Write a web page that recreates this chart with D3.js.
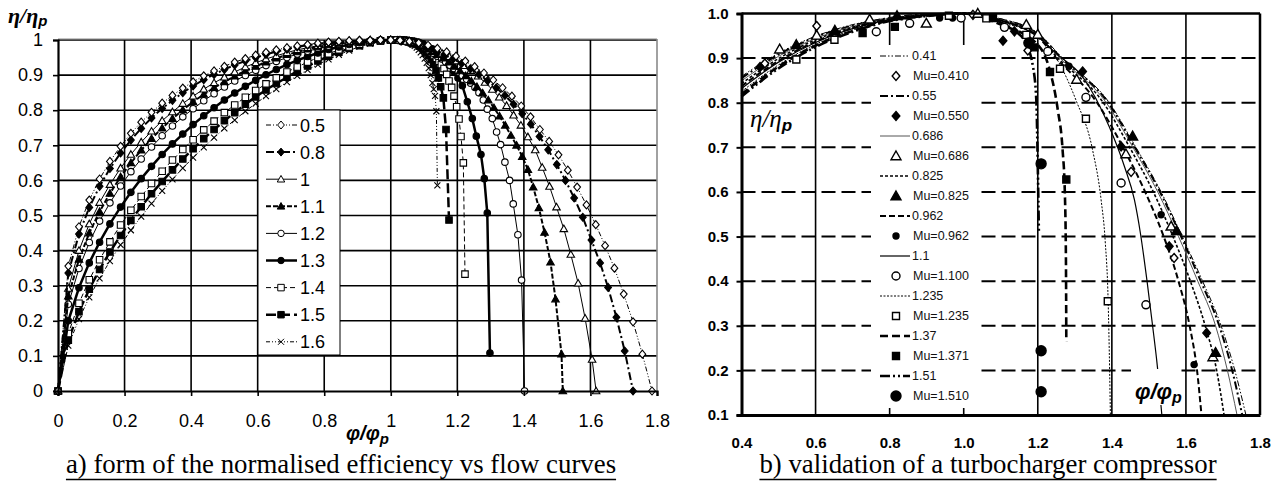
<!DOCTYPE html>
<html>
<head>
<meta charset="utf-8">
<script src="https://cdn.jsdelivr.net/npm/d3@7"></script>
<style>
  body { margin: 0; background: #fff; }
  svg { display: block; }
</style>
</head>
<body>
<svg id="fig" width="1284" height="486"></svg>
<script>
// ---------- chart a) data: normalised efficiency vs flow, one curve per Mu ----------
var muA = ["0.5", "0.8", "1", "1.1", "1.2", "1.3", "1.4", "1.5", "1.6"];

// rising side, shared flow values (phi/phi_p)
var phiRise = [0, 0.031, 0.063, 0.094, 0.125, 0.156, 0.188, 0.219, 0.25, 0.281, 0.313, 0.344, 0.375, 0.406, 0.438, 0.469, 0.5,
  0.531, 0.563, 0.594, 0.625, 0.656, 0.688, 0.719, 0.75, 0.781, 0.813, 0.844, 0.875, 0.906, 0.938, 0.969, 1];

var rise05 = [0, 0.356, 0.468, 0.544, 0.604, 0.654, 0.697, 0.734, 0.766, 0.794, 0.82, 0.842, 0.863, 0.881, 0.898, 0.912, 0.925, 0.937, 0.947, 0.957, 0.965, 0.972, 0.978, 0.983, 0.987, 0.991, 0.994, 0.996, 0.998, 0.999, 0.999, 1, 1];
var rise08 = [0, 0.336, 0.447, 0.523, 0.583, 0.634, 0.678, 0.715, 0.748, 0.778, 0.805, 0.828, 0.85, 0.869, 0.887, 0.902, 0.916, 0.929, 0.94, 0.95, 0.959, 0.967, 0.974, 0.98, 0.985, 0.989, 0.993, 0.995, 0.997, 0.999, 0.999, 1, 1];
var rise10 = [0, 0.292, 0.4, 0.476, 0.537, 0.588, 0.635, 0.674, 0.709, 0.74, 0.77, 0.795, 0.819, 0.84, 0.86, 0.878, 0.894, 0.909, 0.923, 0.935, 0.946, 0.955, 0.964, 0.972, 0.978, 0.984, 0.989, 0.992, 0.995, 0.998, 0.999, 1, 1];
var rise11 = [0, 0.27, 0.375, 0.45, 0.511, 0.563, 0.61, 0.65, 0.686, 0.719, 0.749, 0.776, 0.801, 0.824, 0.845, 0.864, 0.881, 0.897, 0.912, 0.925, 0.937, 0.948, 0.958, 0.966, 0.974, 0.98, 0.986, 0.99, 0.994, 0.997, 0.999, 1, 1];
var rise12 = [0, 0.247, 0.349, 0.423, 0.484, 0.536, 0.584, 0.625, 0.661, 0.695, 0.727, 0.755, 0.781, 0.804, 0.827, 0.847, 0.866, 0.883, 0.899, 0.914, 0.927, 0.939, 0.95, 0.96, 0.968, 0.976, 0.982, 0.988, 0.992, 0.996, 0.998, 1, 1];
var rise13 = [0, 0.2, 0.294, 0.365, 0.424, 0.476, 0.524, 0.566, 0.605, 0.64, 0.674, 0.704, 0.732, 0.759, 0.784, 0.807, 0.829, 0.849, 0.868, 0.885, 0.901, 0.916, 0.93, 0.942, 0.953, 0.963, 0.973, 0.98, 0.987, 0.992, 0.996, 0.999, 1];
var rise14 = [0, 0.164, 0.25, 0.317, 0.374, 0.425, 0.473, 0.515, 0.554, 0.591, 0.626, 0.658, 0.688, 0.716, 0.744, 0.769, 0.793, 0.815, 0.837, 0.856, 0.875, 0.892, 0.909, 0.923, 0.937, 0.95, 0.961, 0.972, 0.98, 0.988, 0.994, 0.998, 1];
var rise15 = [0, 0.145, 0.226, 0.29, 0.346, 0.396, 0.443, 0.486, 0.525, 0.562, 0.597, 0.63, 0.661, 0.69, 0.719, 0.745, 0.77, 0.793, 0.817, 0.838, 0.858, 0.876, 0.894, 0.911, 0.926, 0.94, 0.954, 0.965, 0.976, 0.984, 0.992, 0.997, 1];
var rise16 = [0, 0.129, 0.205, 0.267, 0.321, 0.37, 0.416, 0.458, 0.497, 0.534, 0.57, 0.603, 0.635, 0.665, 0.694, 0.722, 0.748, 0.772, 0.797, 0.819, 0.84, 0.86, 0.88, 0.898, 0.915, 0.93, 0.945, 0.958, 0.97, 0.981, 0.99, 0.996, 1];

// falling side, [phi/phi_p, eta/eta_p]
var fall05 = [[1.028,0.999],[1.056,0.996],[1.084,0.992],[1.112,0.985],[1.14,0.976],[1.168,0.966],[1.196,0.954],[1.224,0.94],[1.252,0.924],[1.28,0.906],[1.308,0.886],[1.336,0.864],[1.364,0.84],[1.392,0.812],[1.42,0.781],[1.448,0.745],[1.476,0.711],[1.504,0.673],[1.532,0.629],[1.56,0.581],[1.588,0.53],[1.616,0.474],[1.644,0.414],[1.672,0.35],[1.7,0.276],[1.728,0.197],[1.756,0.105],[1.785,0]];
var fall08 = [[1.031,0.997],[1.057,0.992],[1.083,0.985],[1.109,0.977],[1.135,0.968],[1.161,0.958],[1.187,0.946],[1.213,0.933],[1.239,0.918],[1.265,0.902],[1.291,0.884],[1.317,0.864],[1.343,0.842],[1.369,0.817],[1.395,0.79],[1.421,0.76],[1.447,0.725],[1.473,0.687],[1.499,0.645],[1.525,0.6],[1.551,0.55],[1.577,0.495],[1.603,0.43],[1.629,0.365],[1.653,0.295],[1.678,0.21],[1.703,0.114],[1.728,0]];
var fall10 = [[1.025,0.999],[1.047,0.996],[1.068,0.992],[1.09,0.986],[1.111,0.979],[1.133,0.971],[1.154,0.962],[1.176,0.952],[1.197,0.94],[1.219,0.927],[1.24,0.913],[1.262,0.897],[1.283,0.879],[1.305,0.859],[1.326,0.837],[1.348,0.813],[1.369,0.786],[1.391,0.757],[1.412,0.724],[1.434,0.687],[1.455,0.637],[1.477,0.583],[1.498,0.524],[1.52,0.462],[1.541,0.389],[1.563,0.307],[1.584,0.207],[1.605,0.09],[1.617,0]];
var fall11 = [[1.021,0.999],[1.038,0.997],[1.055,0.993],[1.072,0.988],[1.089,0.982],[1.106,0.975],[1.123,0.967],[1.14,0.958],[1.157,0.948],[1.174,0.937],[1.191,0.925],[1.208,0.912],[1.225,0.898],[1.242,0.883],[1.259,0.867],[1.276,0.849],[1.293,0.829],[1.31,0.807],[1.327,0.783],[1.344,0.757],[1.361,0.728],[1.378,0.7],[1.395,0.668],[1.412,0.631],[1.428,0.581],[1.445,0.522],[1.462,0.452],[1.48,0.367],[1.495,0.262],[1.513,0.105],[1.517,0]];
var fall12 = [[1.015,1],[1.028,0.999],[1.04,0.997],[1.053,0.995],[1.065,0.991],[1.078,0.987],[1.09,0.982],[1.103,0.976],[1.115,0.969],[1.128,0.962],[1.14,0.954],[1.153,0.946],[1.165,0.937],[1.178,0.928],[1.19,0.919],[1.203,0.909],[1.215,0.899],[1.228,0.888],[1.24,0.877],[1.253,0.865],[1.265,0.85],[1.278,0.829],[1.29,0.803],[1.305,0.776],[1.318,0.738],[1.33,0.702],[1.343,0.652],[1.357,0.6],[1.368,0.533],[1.382,0.445],[1.393,0.316],[1.402,0]];
var fall13 = [[1.02,1],[1.033,1],[1.046,0.999],[1.059,0.998],[1.072,0.996],[1.085,0.993],[1.098,0.989],[1.111,0.983],[1.124,0.975],[1.137,0.966],[1.15,0.955],[1.163,0.942],[1.176,0.927],[1.189,0.91],[1.202,0.892],[1.215,0.87],[1.23,0.824],[1.245,0.776],[1.257,0.726],[1.271,0.674],[1.281,0.605],[1.29,0.507],[1.298,0.108]];
var fall14 = [[1.023,1],[1.031,1],[1.038,0.999],[1.046,0.999],[1.054,0.998],[1.061,0.997],[1.069,0.995],[1.077,0.993],[1.084,0.99],[1.092,0.986],[1.1,0.982],[1.107,0.977],[1.115,0.971],[1.122,0.964],[1.13,0.956],[1.137,0.948],[1.145,0.939],[1.152,0.93],[1.16,0.919],[1.168,0.902],[1.175,0.883],[1.183,0.865],[1.19,0.84],[1.198,0.81],[1.205,0.775],[1.211,0.725],[1.218,0.65],[1.223,0.333]];
var fall15 = [[1.017,1],[1.024,1],[1.031,0.999],[1.038,0.999],[1.045,0.998],[1.052,0.997],[1.059,0.995],[1.066,0.993],[1.073,0.99],[1.08,0.987],[1.087,0.983],[1.094,0.978],[1.101,0.972],[1.108,0.964],[1.115,0.955],[1.122,0.944],[1.129,0.93],[1.136,0.913],[1.143,0.892],[1.15,0.867],[1.158,0.835],[1.166,0.745],[1.175,0.487]];
var fall16 = [[1.012,1],[1.018,1],[1.024,1],[1.03,0.999],[1.036,0.998],[1.042,0.997],[1.048,0.995],[1.054,0.993],[1.06,0.99],[1.066,0.987],[1.072,0.983],[1.078,0.978],[1.084,0.972],[1.09,0.965],[1.096,0.957],[1.102,0.947],[1.108,0.935],[1.114,0.92],[1.12,0.9],[1.125,0.878],[1.129,0.86],[1.133,0.841],[1.137,0.797],[1.14,0.586]];

// ---------- chart b) data: turbocharger compressor validation ----------
var line041  = [[0.4,0.859],[0.5,0.911],[0.6,0.949],[0.7,0.975],[0.8,0.99],[0.9,0.998],[1,1],[1.1,0.988],[1.2,0.956],[1.267,0.9],[1.393,0.8],[1.465,0.7],[1.533,0.6],[1.59,0.5],[1.645,0.4],[1.695,0.3],[1.732,0.2],[1.762,0.1]];
var line055  = [[0.4,0.855],[0.5,0.908],[0.6,0.947],[0.7,0.973],[0.8,0.99],[0.9,0.998],[1,1],[1.1,0.987],[1.2,0.954],[1.264,0.9],[1.39,0.8],[1.462,0.7],[1.53,0.6],[1.587,0.5],[1.64,0.4],[1.69,0.3],[1.725,0.2],[1.752,0.1]];
var line0686 = [[0.4,0.849],[0.5,0.904],[0.6,0.944],[0.7,0.971],[0.8,0.989],[0.9,0.997],[1,1],[1.1,0.986],[1.2,0.952],[1.26,0.9],[1.385,0.8],[1.457,0.7],[1.524,0.6],[1.58,0.5],[1.632,0.4],[1.68,0.3],[1.712,0.2],[1.738,0.1]];
var line0825 = [[0.4,0.843],[0.5,0.899],[0.6,0.941],[0.7,0.969],[0.8,0.988],[0.9,0.997],[1,1],[1.1,0.985],[1.2,0.95],[1.255,0.9],[1.377,0.8],[1.448,0.7],[1.512,0.6],[1.565,0.5],[1.612,0.4],[1.652,0.3],[1.683,0.2],[1.703,0.1]];
var line0962 = [[0.4,0.837],[0.5,0.894],[0.6,0.937],[0.7,0.967],[0.8,0.987],[0.9,0.996],[1,1],[1.1,0.984],[1.2,0.948],[1.25,0.9],[1.36,0.8],[1.43,0.7],[1.49,0.6],[1.54,0.5],[1.58,0.4],[1.61,0.3],[1.63,0.2],[1.642,0.1]];
var line11   = [[0.4,0.832],[0.5,0.891],[0.6,0.935],[0.7,0.966],[0.8,0.986],[0.9,0.996],[1,1],[1.1,0.984],[1.2,0.948],[1.25,0.91],[1.321,0.858],[1.393,0.746],[1.434,0.657],[1.461,0.582],[1.477,0.508],[1.495,0.4],[1.51,0.3],[1.523,0.208],[1.535,0.1]];
var line1235 = [[0.4,0.825],[0.5,0.885],[0.6,0.931],[0.7,0.963],[0.8,0.985],[0.9,0.995],[1,1],[1.1,0.98],[1.205,0.948],[1.25,0.9],[1.303,0.806],[1.348,0.694],[1.371,0.582],[1.382,0.49],[1.39,0.354],[1.394,0.2],[1.396,0.1]];
var line137  = [[0.4,0.819],[0.5,0.881],[0.6,0.928],[0.7,0.961],[0.8,0.984],[0.9,0.995],[1,1],[1.1,0.975],[1.2,0.93],[1.232,0.874],[1.254,0.784],[1.267,0.694],[1.273,0.6],[1.276,0.45],[1.277,0.265]];
var line151  = [[0.4,0.814],[0.5,0.877],[0.6,0.925],[0.7,0.959],[0.8,0.983],[0.9,0.994],[1,1],[1.05,0.995],[1.1,0.98],[1.14,0.96],[1.165,0.937],[1.187,0.881],[1.196,0.806],[1.2,0.657],[1.203,0.508]];

var pts0410 = [[0.463,0.888],[0.603,0.972],[1.025,0.997],[1.173,0.917],[1.452,0.645],[1.568,0.452]];
var pts0550 = [[0.45,0.88],[1.106,0.939],[1.137,0.96],[1.321,0.87],[1.425,0.702],[1.555,0.478],[1.656,0.284]];
var pts0686 = [[0.503,0.92],[0.603,0.951],[0.746,0.987],[0.899,0.978],[1.038,1.0],[1.169,0.975],[1.2,0.953],[1.305,0.852],[1.438,0.685],[1.56,0.523],[1.673,0.23]];
var pts0825 = [[0.548,0.93],[0.652,0.962],[0.82,0.995],[1.456,0.725],[1.575,0.513],[1.68,0.24]];
var pts0962 = [[0.935,0.99],[0.97,0.99],[1.284,0.882],[1.533,0.549],[1.622,0.213]];
var pts1100 = [[0.764,0.959],[0.854,0.978],[0.993,0.99],[1.11,0.969],[1.227,0.915],[1.33,0.812],[1.425,0.62],[1.492,0.347]];
var pts1235 = [[0.548,0.897],[0.651,0.941],[0.96,0.995],[1.061,0.989],[1.169,0.952],[1.26,0.876],[1.33,0.764],[1.389,0.355]];
var pts1371 = [[0.727,0.956],[0.814,0.97],[1.079,0.99],[1.191,0.924],[1.233,0.869],[1.277,0.628]];
var pts1510 = [[1.176,0.934],[1.209,0.663],[1.209,0.244],[1.209,0.152]];

// ---------------------------------------------------------------------------
var svg = d3.select("#fig");
var SANS = "'Liberation Sans', Arial, sans-serif";
var SERIF = "'Liberation Serif', 'Times New Roman', serif";

function markPath(type, s) {
  var h = s / 2;
  if (type == "diamond") return "M0," + (-h) + "L" + h * 0.85 + ",0L0," + h + "L" + (-h * 0.85) + ",0Z";
  if (type == "triangle") return "M0," + (-h) + "L" + h + "," + h * 0.75 + "L" + (-h) + "," + h * 0.75 + "Z";
  if (type == "square") return "M" + (-h) + "," + (-h) + "H" + h + "V" + h + "H" + (-h) + "Z";
  if (type == "x") return "M" + (-h) + "," + (-h) + "L" + h + "," + h + "M" + h + "," + (-h) + "L" + (-h) + "," + h;
  return "M" + h + ",0A" + h + "," + h + " 0 1,1 " + (-h) + ",0A" + h + "," + h + " 0 1,1 " + h + ",0Z";
}

// =========================== chart a ===========================
var xa = d3.scaleLinear().domain([0, 1.8]).range([58, 657]);
var ya = d3.scaleLinear().domain([0, 1]).range([391, 40]);
var ga = svg.append("g");

// grid
ga.append("g").selectAll("line").data(xa.ticks(9).filter(function(d) { return d > 0 && d < 1.8; }))
  .enter().append("line")
    .attr("x1", xa).attr("x2", xa).attr("y1", ya(0)).attr("y2", ya(1))
    .attr("stroke", "#000").attr("stroke-width", 1.6);
ga.append("g").selectAll("line").data(ya.ticks(10).filter(function(d) { return d > 0; }))
  .enter().append("line")
    .attr("y1", ya).attr("y2", ya).attr("x1", xa(0)).attr("x2", xa(1.8))
    .attr("stroke", "#000").attr("stroke-width", 1.6);
ga.append("line").attr("x1", xa(1.8)).attr("x2", xa(1.8)).attr("y1", ya(0)).attr("y2", ya(1) - 1)
  .attr("stroke", "#8a8a8a").attr("stroke-width", 1.6);
ga.append("line").attr("x1", xa(0)).attr("x2", xa(1.8)).attr("y1", ya(1) - 1).attr("y2", ya(1) - 1)
  .attr("stroke", "#8a8a8a").attr("stroke-width", 1);

var seriesA = [
  { name: muA[0], rise: rise05, fall: fall05, mark: "diamond",  fill: "#fff", s: 8,   w: 1,   dash: "5,2,1,2,1,2" },
  { name: muA[1], rise: rise08, fall: fall08, mark: "diamond",  fill: "#000", s: 8,   w: 2,   dash: "8,3,2,3" },
  { name: muA[2], rise: rise10, fall: fall10, mark: "triangle", fill: "#fff", s: 7.5, w: 1,   dash: null },
  { name: muA[3], rise: rise11, fall: fall11, mark: "triangle", fill: "#000", s: 7.5, w: 2,   dash: "5,2" },
  { name: muA[4], rise: rise12, fall: fall12, mark: "circle",   fill: "#fff", s: 6.5, w: 1,   dash: null },
  { name: muA[5], rise: rise13, fall: fall13, mark: "circle",   fill: "#000", s: 6.5, w: 2.5, dash: null },
  { name: muA[6], rise: rise14, fall: fall14, mark: "square",   fill: "#fff", s: 6.5, w: 1,   dash: "5,3" },
  { name: muA[7], rise: rise15, fall: fall15, mark: "square",   fill: "#000", s: 6.5, w: 2.5, dash: "10,4" },
  { name: muA[8], rise: rise16, fall: fall16, mark: "x",        fill: "none", s: 6,   w: 1,   dash: "4,2,1,2,1,2" }
];

var lineA = d3.line().x(function(d) { return xa(d[0]); }).y(function(d) { return ya(d[1]); });

seriesA.slice().reverse().forEach(function(s) {
  var pts = phiRise.map(function(p, i) { return [p, s.rise[i]]; }).concat(s.fall);
  var g = ga.append("g");
  g.append("path").datum(pts).attr("d", lineA).attr("fill", "none")
    .attr("stroke", "#000").attr("stroke-width", s.w).attr("stroke-dasharray", s.dash);
  g.selectAll("path.m").data(pts).enter().append("path").attr("class", "m")
    .attr("transform", function(d) { return "translate(" + xa(d[0]) + "," + ya(d[1]) + ")"; })
    .attr("d", markPath(s.mark, s.s))
    .attr("fill", s.fill).attr("stroke", "#000").attr("stroke-width", 1.1);
});

// axes
var axL = ga.append("g").attr("transform", "translate(" + xa(0) + ",0)")
  .call(d3.axisLeft(ya).ticks(10).tickSize(5).tickPadding(10).tickFormat(d3.format("~g")));
var axB = ga.append("g").attr("transform", "translate(0," + ya(0) + ")")
  .call(d3.axisBottom(xa).tickValues(xa.ticks(9)).tickSize(5).tickPadding(18).tickFormat(d3.format("~g")));
[axL, axB].forEach(function(a) {
  a.select(".domain").attr("stroke-width", 2.2);
  a.selectAll(".tick line").attr("stroke-width", 1.6);
  a.selectAll("text").attr("font-family", SANS).attr("font-size", 18).attr("fill", "#000");
});

// legend a
var legA = ga.append("g").attr("transform", "translate(258,110)");
legA.append("rect").attr("width", 82).attr("height", 245).attr("fill", "#fff").attr("stroke", "#000").attr("stroke-width", 1);
seriesA.forEach(function(s, i) {
  var y = 15 + i * 27.1;
  legA.append("line").attr("x1", 8).attr("x2", 39).attr("y1", y).attr("y2", y)
    .attr("stroke", "#000").attr("stroke-width", s.w).attr("stroke-dasharray", s.dash);
  legA.append("path").attr("transform", "translate(23," + y + ")").attr("d", markPath(s.mark, s.s))
    .attr("fill", s.fill).attr("stroke", "#000").attr("stroke-width", 1);
  legA.append("text").attr("x", 42).attr("y", y + 6.5).attr("font-family", SANS).attr("font-size", 18).text(s.name);
});

// titles a
var tYa = ga.append("text").attr("x", 8).attr("y", 23).attr("font-family", SERIF)
  .attr("font-size", 22).attr("font-weight", "bold").attr("font-style", "italic").text("η/η");
tYa.append("tspan").attr("font-family", SANS).attr("font-size", 15).attr("dy", 3).text("p");
var tXa = ga.append("text").attr("x", 346).attr("y", 440).attr("font-family", SANS)
  .attr("font-size", 20).attr("font-weight", "bold").attr("font-style", "italic").text("φ/φ");
tXa.append("tspan").attr("font-size", 15).attr("dy", 4).text("p");

// =========================== chart b ===========================
var xb = d3.scaleLinear().domain([0.4, 1.8]).range([741.5, 1260]);
var yb = d3.scaleLinear().domain([0.1, 1.0]).range([415, 13.5]);
var gb = svg.append("g");

gb.append("g").selectAll("line").data(yb.ticks(9).filter(function(d) { return d > 0.15 && d < 0.95; }))
  .enter().append("line")
    .attr("y1", yb).attr("y2", yb).attr("x1", xb(0.4)).attr("x2", xb(1.8))
    .attr("stroke", "#000").attr("stroke-width", 2).attr("stroke-dasharray", "14,6");
gb.append("g").selectAll("line").data(xb.ticks(7).filter(function(d) { return d > 0.45 && d < 1.75; }))
  .enter().append("line")
    .attr("x1", xb).attr("x2", xb).attr("y1", yb(0.1)).attr("y2", yb(1))
    .attr("stroke", "#000").attr("stroke-width", 1.6);

var linesB = [
  { name: "0.41",  data: line041,  w: 1,   dash: "6,2,1.5,2,1.5,2", color: "#000" },
  { name: "0.55",  data: line055,  w: 2,   dash: "8,3,2,3",         color: "#000" },
  { name: "0.686", data: line0686, w: 1,   dash: null,              color: "#555" },
  { name: "0.825", data: line0825, w: 1.6, dash: "3,2",             color: "#000" },
  { name: "0.962", data: line0962, w: 2,   dash: "6,3",             color: "#000" },
  { name: "1.1",   data: line11,   w: 1.2, dash: null,              color: "#000" },
  { name: "1.235", data: line1235, w: 1,   dash: "2,1.5",           color: "#000" },
  { name: "1.37",  data: line137,  w: 2.6, dash: "8,4",             color: "#000" },
  { name: "1.51",  data: line151,  w: 2.6, dash: "10,3,2,3,2,3",    color: "#000" }
];
var ptsB = [
  { name: "Mu=0.410", data: pts0410, mark: "diamond",  fill: "#fff", s: 9 },
  { name: "Mu=0.550", data: pts0550, mark: "diamond",  fill: "#000", s: 9 },
  { name: "Mu=0.686", data: pts0686, mark: "triangle", fill: "#fff", s: 10 },
  { name: "Mu=0.825", data: pts0825, mark: "triangle", fill: "#000", s: 10 },
  { name: "Mu=0.962", data: pts0962, mark: "circle",   fill: "#000", s: 6 },
  { name: "Mu=1.100", data: pts1100, mark: "circle",   fill: "#fff", s: 8 },
  { name: "Mu=1.235", data: pts1235, mark: "square",   fill: "#fff", s: 7 },
  { name: "Mu=1.371", data: pts1371, mark: "square",   fill: "#000", s: 7 },
  { name: "Mu=1.510", data: pts1510, mark: "circle",   fill: "#000", s: 10 }
];

var lineB = d3.line().curve(d3.curveMonotoneX)
  .x(function(d) { return xb(d[0]); }).y(function(d) { return yb(d[1]); });
linesB.forEach(function(l) {
  gb.append("path").datum(l.data).attr("d", lineB).attr("fill", "none")
    .attr("stroke", l.color).attr("stroke-width", l.w).attr("stroke-dasharray", l.dash);
});
ptsB.forEach(function(p) {
  gb.append("g").selectAll("path").data(p.data).enter().append("path")
    .attr("transform", function(d) { return "translate(" + xb(d[0]) + "," + yb(d[1]) + ")"; })
    .attr("d", markPath(p.mark, p.s))
    .attr("fill", p.fill).attr("stroke", "#000").attr("stroke-width", 1.4);
});

// frame + axes
gb.append("line").attr("x1", xb(0.4)).attr("x2", xb(1.8)).attr("y1", yb(1)).attr("y2", yb(1)).attr("stroke", "#000").attr("stroke-width", 2.5);
gb.append("line").attr("x1", xb(1.8)).attr("x2", xb(1.8)).attr("y1", yb(1)).attr("y2", yb(0.1)).attr("stroke", "#000").attr("stroke-width", 2.5);
var axLb = gb.append("g").attr("transform", "translate(" + xb(0.4) + ",0)")
  .call(d3.axisLeft(yb).ticks(9).tickSize(5).tickPadding(8).tickFormat(d3.format(".1f")));
var axBb = gb.append("g").attr("transform", "translate(0," + yb(0.1) + ")")
  .call(d3.axisBottom(xb).ticks(7).tickSize(0).tickPadding(22).tickFormat(d3.format(".1f")));
[axLb, axBb].forEach(function(a) {
  a.select(".domain").attr("stroke-width", 3);
  a.selectAll(".tick line").attr("stroke-width", 2);
  a.selectAll("text").attr("font-family", SANS).attr("font-size", 15).attr("font-weight", "bold").attr("fill", "#000");
});

// legend b
var legB = gb.append("g");
legB.append("rect").attr("x", 871).attr("y", 45).attr("width", 109).attr("height", 363).attr("fill", "#fff");
linesB.forEach(function(l, i) {
  var y1 = 56 + i * 40, y2 = y1 + 20, p = ptsB[i];
  legB.append("line").attr("x1", 880).attr("x2", 910).attr("y1", y1).attr("y2", y1)
    .attr("stroke", l.color).attr("stroke-width", l.w).attr("stroke-dasharray", l.dash);
  legB.append("text").attr("x", 912).attr("y", y1 + 4).attr("font-family", SANS).attr("font-size", 12.5).attr("fill", "#111").text(l.name);
  legB.append("path").attr("transform", "translate(896," + y2 + ")").attr("d", markPath(p.mark, p.s))
    .attr("fill", p.fill).attr("stroke", "#000").attr("stroke-width", 1.4);
  legB.append("text").attr("x", 913).attr("y", y2 + 4).attr("font-family", SANS).attr("font-size", 12.5).attr("fill", "#111").text(p.name);
});

// titles b
var tYb = gb.append("text").attr("x", 750).attr("y", 127).attr("font-family", SERIF)
  .attr("font-size", 25).attr("font-style", "italic").text("η/η");
tYb.append("tspan").attr("font-family", SANS).attr("font-weight", "bold").attr("font-size", 17).attr("dy", 4).text("p");
gb.append("rect").attr("x", 1131).attr("y", 369).attr("width", 50).attr("height", 36).attr("fill", "#fff");
var tXb = gb.append("text").attr("x", 1135).attr("y", 399).attr("font-family", SANS)
  .attr("font-size", 22).attr("font-weight", "bold").attr("font-style", "italic").text("φ/φ");
tXb.append("tspan").attr("font-size", 16).attr("dy", 4).text("p");

// captions
function caption(cx, txt) {
  var t = svg.append("text").attr("x", cx).attr("y", 473).attr("text-anchor", "middle")
    .attr("font-family", SERIF).attr("font-size", 26.8).text(txt);
  var b = t.node().getBBox();
  svg.append("line").attr("x1", b.x).attr("x2", b.x + b.width).attr("y1", 479.5).attr("y2", 479.5)
    .attr("stroke", "#000").attr("stroke-width", 1.5);
}
caption(341, "a) form of the normalised efficiency vs flow curves");
caption(988, "b) validation of a turbocharger compressor");
</script>
</body>
</html>
